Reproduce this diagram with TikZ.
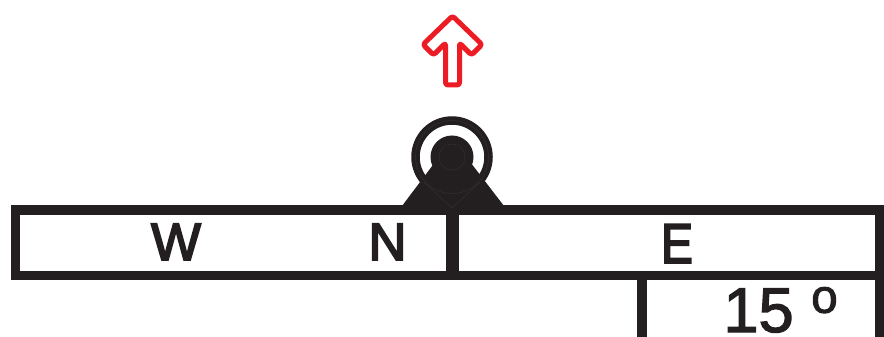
\documentclass[tikz,border=0pt]{standalone}
\usepackage{fontspec}
\setmainfont{Liberation Sans}
\newfontfamily\heavyfont[FakeBold=3.5]{Liberation Sans}
\newfontfamily\numfont[FakeBold=2]{Liberation Sans}
\definecolor{inkblack}{HTML}{231F20}
\definecolor{arrowred}{HTML}{ED1C24}
\definecolor{pinline}{HTML}{302D2E}
\tikzset{
  barline/.style={draw=inkblack, line width=0.2cm, line cap=butt, miter limit=10},
  letter/.style={text=inkblack, inner sep=0pt, anchor=base, font=\fontsize{30}{30}\heavyfont},
}

\begin{document}
\begin{tikzpicture}[x=0.02cm, y=-0.02cm]
\useasboundingbox (0,0) rectangle (884,337);

\fill[inkblack] (402,206) -- (452.5,139) -- (504,206) -- cycle;

\draw[barline] (900,210) -- (15.5,210) -- (15.5,275.5) -- (900,275.5);
\draw[barline] (879.5,210) -- (879.5,337);
\draw[barline] (641.5,275.5) -- (641.5,337);
\draw[inkblack, line width=0.26cm] (452.5,210) -- (452.5,275.5);

\draw[inkblack, line width=0.17cm] (452,157) circle (36.5);
\fill[inkblack] (452,157) circle (21.5);

\draw[pinline, line width=0.012cm] (452,157) circle (36.5);
\draw[pinline, line width=0.012cm] (452,157) circle (13);
\draw[pinline, line width=0.012cm] (424,182) -- (452,208) -- (480,182);

\draw[arrowred, line width=0.1cm, rounded corners=0.05cm, line join=round]
   (452.5,16) -- (482,44.5) -- (471.5,55) -- (459.5,43) -- (459.5,85)
   -- (445.5,85) -- (445.5,43) -- (433.5,55) -- (423,44.5) -- cycle;

\node[letter] at (176,260) (west) {W};
\node[letter] at (387.5,260) (north) {N};
\node[letter, font=\fontsize{32}{32}\heavyfont] at (677,263) (east) {\scalebox{0.85}[1]{E}};
\node[letter, font=\fontsize{36}{36}\numfont, anchor=base west] at (723,332) (angle)
   {15\hspace{10pt}\raisebox{11pt}{\fontsize{27}{27}\numfont o}};

\end{tikzpicture}
\end{document}
